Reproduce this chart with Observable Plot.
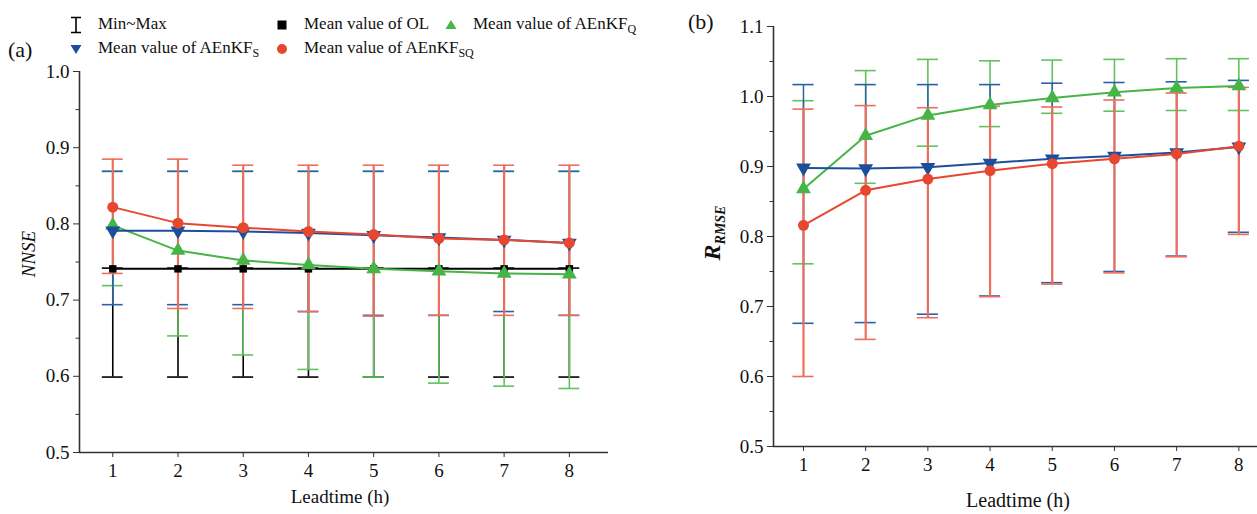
<!DOCTYPE html>
<html><head><meta charset="utf-8">
<script src="https://cdn.jsdelivr.net/npm/d3@7"></script>
<script src="https://cdn.jsdelivr.net/npm/@observablehq/plot@0.6"></script>
<style>
body{margin:0;background:#fff;}
#wrap{position:relative;width:1257px;height:514px;font-family:"Liberation Serif","DejaVu Serif",serif;color:#111;overflow:hidden;}
.abs{position:absolute;white-space:nowrap;}
.leg{font-size:17px;line-height:18px;}
.leg sub{font-size:12px;vertical-align:-4px;line-height:0;}
#pa,#pb{position:absolute;top:0;}
svg text{font-family:"Liberation Serif","DejaVu Serif",serif;}
</style></head>
<body><div id="wrap">
<div id="pa"></div><div id="pb"></div>
</div>
<script>
// ---------- data ----------
const leadtime = [1, 2, 3, 4, 5, 6, 7, 8];

// Panel (a): NNSE
const nnseOLMean = [0.741, 0.741, 0.741, 0.741, 0.741, 0.741, 0.741, 0.741];
const nnseOLMin  = [0.599, 0.599, 0.599, 0.599, 0.599, 0.599, 0.599, 0.599];
const nnseOLMax  = [0.742, 0.742, 0.742, 0.742, 0.742, 0.742, 0.742, 0.742];
const nnseQMean  = [0.798, 0.765, 0.752, 0.746, 0.741, 0.738, 0.735, 0.734];
const nnseQMin   = [0.719, 0.653, 0.628, 0.609, 0.599, 0.591, 0.587, 0.584];
const nnseQMax   = [0.869, 0.869, 0.869, 0.869, 0.869, 0.869, 0.869, 0.869];
const nnseSMean  = [0.791, 0.791, 0.790, 0.788, 0.785, 0.782, 0.779, 0.775];
const nnseSMin   = [0.694, 0.694, 0.694, 0.685, 0.680, 0.680, 0.685, 0.680];
const nnseSMax   = [0.869, 0.869, 0.869, 0.869, 0.869, 0.869, 0.869, 0.869];
const nnseSQMean = [0.822, 0.801, 0.795, 0.790, 0.786, 0.781, 0.779, 0.775];
const nnseSQMin  = [0.735, 0.689, 0.689, 0.685, 0.679, 0.680, 0.680, 0.680];
const nnseSQMax  = [0.885, 0.885, 0.877, 0.877, 0.877, 0.877, 0.877, 0.877];

// Panel (b): R_RMSE
const rQMean  = [0.868, 0.944, 0.973, 0.988, 0.998, 1.006, 1.012, 1.015];
const rQMin   = [0.761, 0.876, 0.929, 0.957, 0.976, 0.979, 0.980, 0.980];
const rQMax   = [0.994, 1.037, 1.053, 1.051, 1.052, 1.053, 1.054, 1.054];
const rSMean  = [0.898, 0.897, 0.899, 0.905, 0.911, 0.915, 0.920, 0.928];
const rSMin   = [0.676, 0.677, 0.689, 0.715, 0.734, 0.750, 0.772, 0.806];
const rSMax   = [1.017, 1.017, 1.017, 1.017, 1.019, 1.020, 1.021, 1.023];
const rSQMean = [0.816, 0.866, 0.882, 0.894, 0.904, 0.911, 0.918, 0.929];
const rSQMin  = [0.600, 0.653, 0.684, 0.714, 0.732, 0.748, 0.771, 0.803];
const rSQMax  = [0.982, 0.987, 0.984, 0.986, 0.985, 0.995, 1.005, 1.013];

const yTicksA = [0.5, 0.6, 0.7, 0.8, 0.9, 1.0];
const yMinorA = [0.55, 0.65, 0.75, 0.85, 0.95];
const yTicksB = [0.5, 0.6, 0.7, 0.8, 0.9, 1.0, 1.1];
const yMinorB = [0.55, 0.65, 0.75, 0.85, 0.95, 1.05];

// ---------- styles ----------
const FONT = "Liberation Serif, DejaVu Serif, serif";
const C = {
  ol:  {line: "#000000", bar: "#000000", w: 1.6},
  q:   {line: "#46b446", bar: "#62c25e", w: 1.6},
  s:   {line: "#1b4f9c", bar: "#2c60aa", w: 1.5},
  sq:  {line: "#e8472f", bar: "#ef6d5c", w: 2.2}
};

function series(mean, min, max) {
  return leadtime.map((x, i) => ({x, mean: mean[i], min: min[i], max: max[i]}));
}

function barMarks(data, c, half) {
  const caps = data.flatMap(d => [{x: d.x, v: d.min}, {x: d.x, v: d.max}]);
  return [
    Plot.ruleX(data, {x: "x", y1: "min", y2: "max", stroke: c.bar, strokeWidth: c.w}),
    Plot.ruleY(caps, {y: "v", x1: d => d.x - half, x2: d => d.x + half, stroke: c.bar, strokeWidth: 1.6})
  ];
}
function lineMarks(data, color, symbol, r, rotate) {
  return [
    Plot.line(data, {x: "x", y: "mean", stroke: color, strokeWidth: 2}),
    Plot.dot(data, {x: "x", y: "mean", symbol, r, fill: color, stroke: "none", rotate: rotate || 0})
  ];
}
function axes(xDom, yDom, yT, yM) {
  return [
    Plot.axisX({ticks: leadtime, tickSize: 5, tickPadding: 6, tickFormat: d => String(d), label: null, fontSize: 19, fontFamily: FONT, stroke: "#333"}),
    Plot.axisY({ticks: yT, tickSize: 6, tickPadding: 4, tickFormat: d3.format(".1f"), label: null, fontSize: 19, fontFamily: FONT, stroke: "#333"}),
    Plot.axisY({ticks: yM, tickSize: 3.5, tickFormat: () => "", label: null, stroke: "#333"}),
    Plot.ruleX([xDom[0]], {stroke: "#333", strokeWidth: 1.6}),
    Plot.ruleY([yDom[0]], {stroke: "#333", strokeWidth: 1.6})
  ];
}

// ---------- panel (a) ----------
const xDomA = [0.49, 8.6], yDomA = [0.5, 1.0];
const aOL = series(nnseOLMean, nnseOLMin, nnseOLMax);
const aQ = series(nnseQMean, nnseQMin, nnseQMax);
const aS = series(nnseSMean, nnseSMin, nnseSMax);
const aSQ = series(nnseSQMean, nnseSQMin, nnseSQMax);
const plotA = Plot.plot({
  width: 650, height: 514,
  marginLeft: 79, marginRight: 42, marginTop: 71, marginBottom: 62,
  x: {domain: xDomA, axis: null},
  y: {domain: yDomA, axis: null},
  style: {fontFamily: FONT, fontSize: "19px", color: "#111", background: "transparent"},
  marks: [
    ...barMarks(aOL, C.ol, 0.16),
    ...barMarks(aQ, C.q, 0.16),
    ...barMarks(aS, C.s, 0.16),
    ...barMarks(aSQ, C.sq, 0.16),
    ...lineMarks(aOL, C.ol.line, "square", 4.2),
    ...lineMarks(aQ, C.q.line, "triangle", 5.5),
    ...lineMarks(aS, C.s.line, "triangle", 5.5, 180),
    ...lineMarks(aSQ, C.sq.line, "circle", 5.5),
    ...axes(xDomA, yDomA, yTicksA, yMinorA)
  ]
});
document.getElementById("pa").append(plotA);
document.getElementById("pa").style.left = "0px";

// ---------- panel (b) ----------
const xDomB = [0.518, 8.3], yDomB = [0.5, 1.1];
const bQ = series(rQMean, rQMin, rQMax);
const bS = series(rSMean, rSMin, rSMax);
const bSQ = series(rSQMean, rSQMin, rSQMax);
const plotB = Plot.plot({
  width: 607, height: 514,
  marginLeft: 123, marginRight: 0, marginTop: 26, marginBottom: 68,
  x: {domain: xDomB, axis: null},
  y: {domain: yDomB, axis: null},
  style: {fontFamily: FONT, fontSize: "19px", color: "#111", background: "transparent"},
  marks: [
    ...barMarks(bQ, C.q, 0.17),
    ...barMarks(bS, C.s, 0.17),
    ...barMarks(bSQ, C.sq, 0.17),
    ...lineMarks(bQ, C.q.line, "triangle", 5.5),
    ...lineMarks(bS, C.s.line, "triangle", 5.5, 180),
    ...lineMarks(bSQ, C.sq.line, "circle", 5.5),
    ...axes(xDomB, yDomB, yTicksB, yMinorB)
  ]
});
document.getElementById("pb").append(plotB);
document.getElementById("pb").style.left = "650px";

// ---------- texts & legend ----------
const wrap = document.getElementById("wrap");
function addHTML(html, css, cls) {
  const d = document.createElement("div");
  d.className = "abs " + (cls || "");
  d.innerHTML = html;
  Object.assign(d.style, css);
  wrap.append(d);
  return d;
}
addHTML("(a)", {left: "8px", top: "50px", transform: "translateY(-50%)", fontSize: "22px"});
addHTML("(b)", {left: "688px", top: "22px", transform: "translateY(-50%)", fontSize: "22px"});
addHTML("Leadtime (h)", {left: "340px", top: "497px", transform: "translate(-50%,-50%)", fontSize: "19px"});
addHTML("Leadtime (h)", {left: "1018px", top: "500px", transform: "translate(-50%,-50%)", fontSize: "20px"});
addHTML("<i>NNSE</i>", {left: "29px", top: "254px", transform: "translate(-50%,-50%) rotate(-90deg)", fontSize: "19px"});
addHTML('<b><i>R<sub style="font-size:14px;vertical-align:-5px">RMSE</sub></i></b>', {left: "714px", top: "233px", transform: "translate(-50%,-50%) rotate(-90deg)", fontSize: "24px"});

const legendItems = [
  {sym: "bar", color: "#000", x: 76, y: 25, tx: 98, label: "Min~Max"},
  {sym: "square", color: C.ol.line, x: 282, y: 25, tx: 304, label: "Mean value of OL"},
  {sym: "tri", color: C.q.line, x: 451, y: 25, tx: 473, label: "Mean value of AEnKF<sub>Q</sub>"},
  {sym: "dtri", color: C.s.line, x: 76, y: 49, tx: 98, label: "Mean value of AEnKF<sub>S</sub>"},
  {sym: "circle", color: C.sq.line, x: 282, y: 49, tx: 304, label: "Mean value of AEnKF<sub>SQ</sub>"}
];
const symSvg = {
  bar: c => `<svg width="16" height="18" viewBox="0 0 16 18"><path d="M3 1.5H13M8 1.5V16.5M3 16.5H13" stroke="${c}" stroke-width="1.6" fill="none"/></svg>`,
  square: c => `<svg width="16" height="18" viewBox="0 0 16 18"><rect x="3.5" y="4.5" width="9" height="9" fill="${c}"/></svg>`,
  tri: c => `<svg width="16" height="18" viewBox="0 0 16 18"><path d="M8 4L13.5 13H2.5Z" fill="${c}"/></svg>`,
  dtri: c => `<svg width="16" height="18" viewBox="0 0 16 18"><path d="M8 14L13.5 5H2.5Z" fill="${c}"/></svg>`,
  circle: c => `<svg width="16" height="18" viewBox="0 0 16 18"><circle cx="8" cy="9" r="5" fill="${c}"/></svg>`
};
for (const it of legendItems) {
  addHTML(symSvg[it.sym](it.color), {left: (it.x - 8) + "px", top: (it.y - 9) + "px", lineHeight: "0"});
  addHTML(it.label, {left: it.tx + "px", top: (it.y - 10) + "px"}, "leg");
}
</script>
</body></html>
